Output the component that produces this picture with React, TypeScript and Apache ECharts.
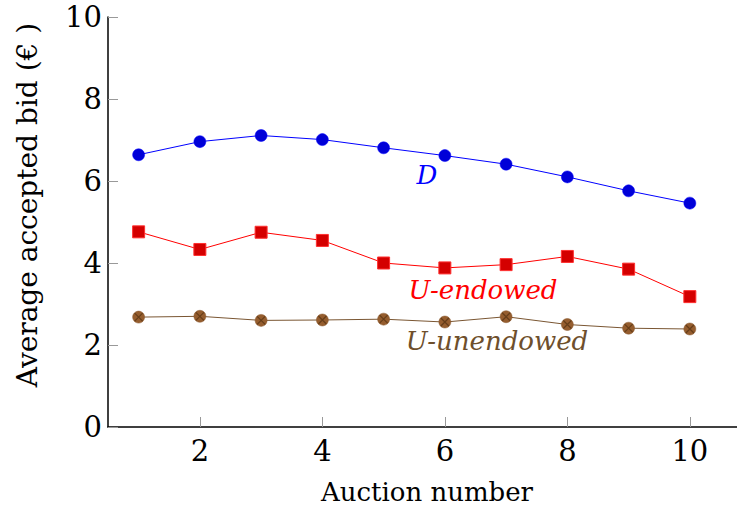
import React, { useEffect, useRef } from "react";
import * as echarts from "echarts";

const auctions = [1, 2, 3, 4, 5, 6, 7, 8, 9, 10];
const dValues = [6.64, 6.96, 7.11, 7.01, 6.81, 6.62, 6.41, 6.1, 5.76, 5.46];
const uEndowed = [4.76, 4.33, 4.75, 4.55, 4.0, 3.88, 3.96, 4.16, 3.85, 3.18];
const uUnendowed = [2.68, 2.7, 2.6, 2.61, 2.63, 2.56, 2.69, 2.5, 2.41, 2.39];
const xTicks = [2, 4, 6, 8, 10];

const FONT = "DejaVu Serif";

export default function App() {
  const ref = useRef<HTMLDivElement>(null);
  useEffect(() => {
    if (!ref.current) return;
    const chart = echarts.init(ref.current, undefined, { renderer: "svg" });
    const pair = (ys: number[]) => auctions.map((x, i) => [x, ys[i]]);
    chart.setOption({
      animation: false,
      backgroundColor: "#ffffff",
      grid: { left: 108, right: 0, top: 17, bottom: 82, containLabel: false },
      xAxis: {
        type: "value",
        min: 0.5,
        max: 10.77,
        axisLine: { show: true, lineStyle: { color: "#000", width: 1.5 } },
        axisTick: {
          show: true,
          inside: true,
          length: 10,
          customValues: xTicks,
          lineStyle: { color: "#999", width: 1 },
        },
        axisLabel: {
          customValues: xTicks,
          color: "#000",
          fontFamily: FONT,
          fontSize: 29,
          margin: 9,
        },
        splitLine: { show: false },
      },
      yAxis: {
        type: "value",
        min: 0,
        max: 10,
        interval: 2,
        axisLine: { show: true, lineStyle: { color: "#000", width: 1.5 } },
        axisTick: {
          show: true,
          inside: true,
          length: 10,
          lineStyle: { color: "#999", width: 1 },
        },
        axisLabel: {
          color: "#000",
          fontFamily: FONT,
          fontSize: 29,
          margin: 6,
        },
        splitLine: { show: false },
      },
      series: [
        {
          type: "line",
          data: pair(dValues),
          symbol: "circle",
          symbolSize: 12,
          lineStyle: { color: "#0000ff", width: 1 },
          itemStyle: { color: "#0000d8", borderColor: "#0000ff", borderWidth: 0.5 },
          z: 3,
        },
        {
          type: "line",
          data: pair(uEndowed),
          symbol: "rect",
          symbolSize: 12,
          lineStyle: { color: "#ff0000", width: 1 },
          itemStyle: { color: "#d40000", borderColor: "#ff3030", borderWidth: 1 },
          z: 3,
        },
        {
          type: "line",
          data: pair(uUnendowed),
          symbol: "circle",
          symbolSize: 12,
          lineStyle: { color: "#7a5632", width: 1 },
          itemStyle: { color: "#955d2e", borderColor: "#8a5a30", borderWidth: 0.5 },
          z: 3,
        },
        {
          type: "scatter",
          data: pair(uUnendowed),
          symbol: "path://M0,0L10,10M10,0L0,10",
          symbolSize: 8,
          itemStyle: { color: "rgba(0,0,0,0)", borderColor: "#5a3614", borderWidth: 1.2 },
          z: 4,
        },
      ],
      graphic: [
        {
          type: "text",
          x: 27,
          y: 205,
          rotation: Math.PI / 2,
          style: {
            text: "Average accepted bid (€ )",
            fontFamily: FONT,
            fontSize: 28,
            fill: "#000",
            align: "center",
            verticalAlign: "middle",
          },
        },
        {
          type: "text",
          x: 427,
          y: 492,
          style: {
            text: "Auction number",
            fontFamily: FONT,
            fontSize: 26,
            fill: "#000",
            align: "center",
            verticalAlign: "middle",
          },
        },
        {
          type: "text",
          x: 427,
          y: 175,
          style: {
            text: "D",
            fontFamily: FONT,
            fontStyle: "italic",
            fontSize: 26,
            fill: "#0000ff",
            align: "center",
            verticalAlign: "middle",
          },
        },
        {
          type: "text",
          x: 483,
          y: 290,
          style: {
            text: "U-endowed",
            fontFamily: FONT,
            fontStyle: "italic",
            fontSize: 26,
            fill: "#ff0000",
            align: "center",
            verticalAlign: "middle",
          },
        },
        {
          type: "text",
          x: 497,
          y: 341,
          style: {
            text: "U-unendowed",
            fontFamily: FONT,
            fontStyle: "italic",
            fontSize: 26,
            fill: "#6e4f2c",
            align: "center",
            verticalAlign: "middle",
          },
        },
      ],
    });
    return () => chart.dispose();
  }, []);
  return (
    <div
      ref={ref}
      style={{ position: "fixed", left: 0, top: 0, width: 737, height: 509 }}
    />
  );
}
